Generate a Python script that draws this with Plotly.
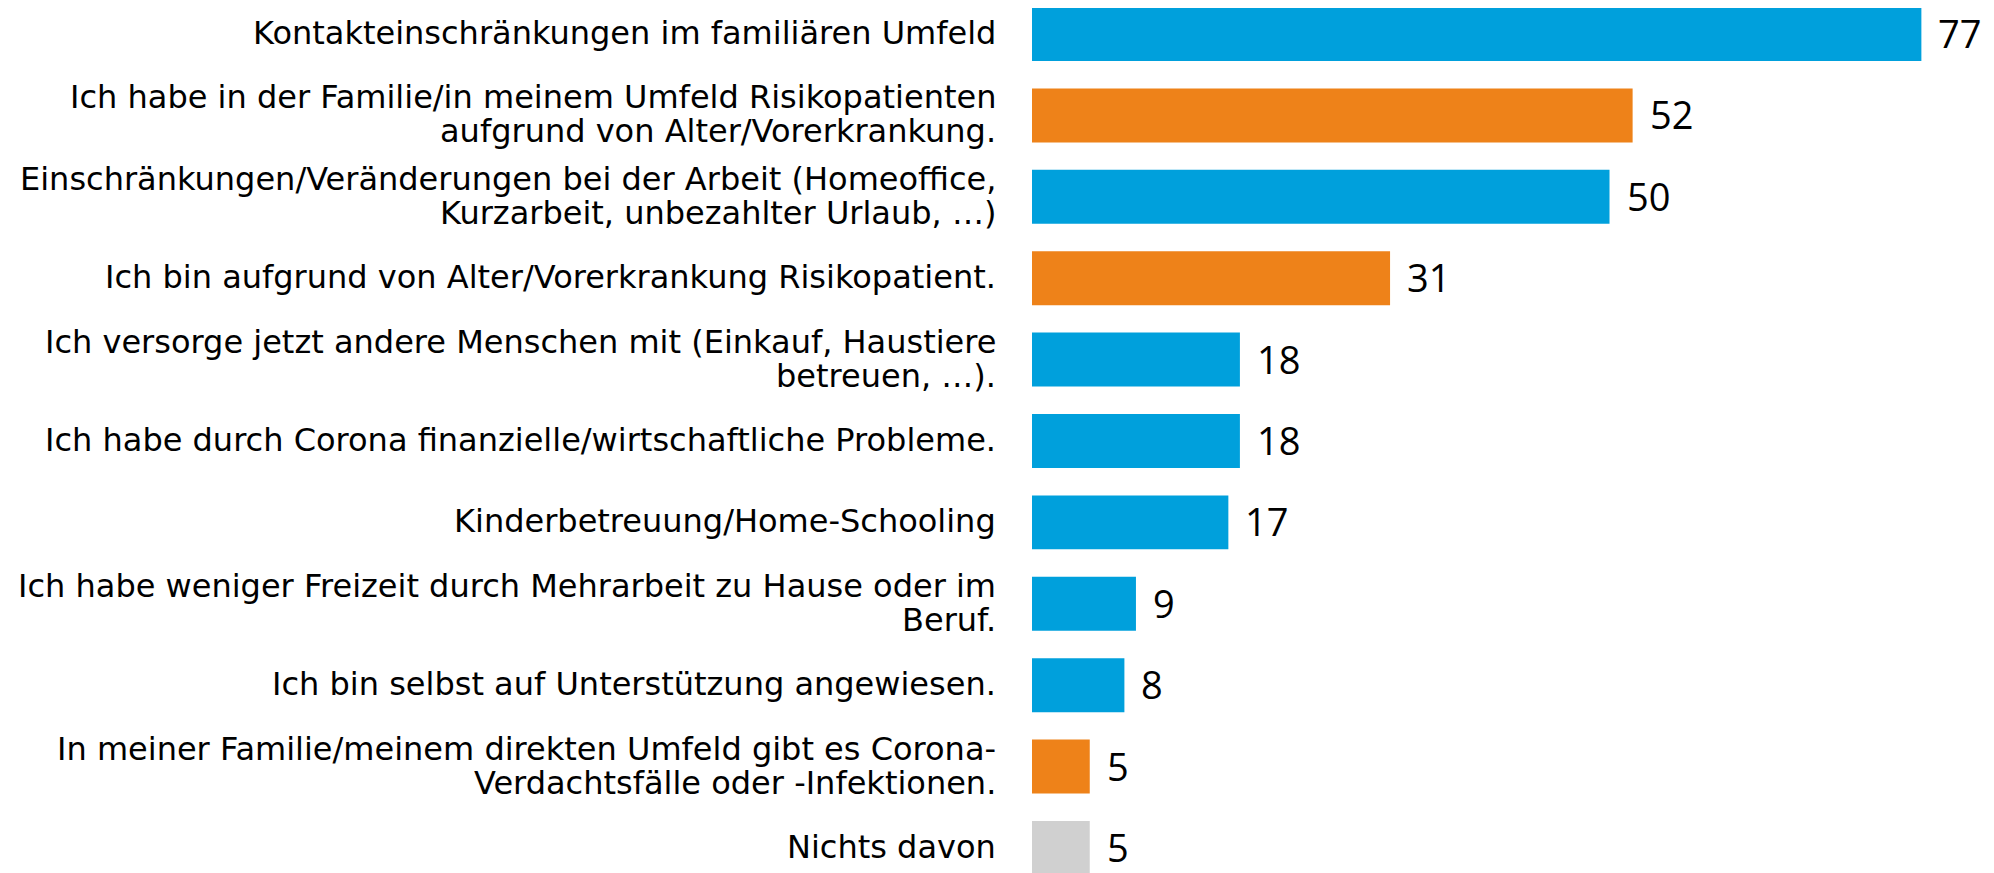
import plotly.graph_objects as go

categories = [
    "Kontakteinschränkungen im familiären Umfeld",
    "Ich habe in der Familie/in meinem Umfeld Risikopatienten<br>aufgrund von Alter/Vorerkrankung.",
    "Einschränkungen/Veränderungen bei der Arbeit (Homeoffice,<br>Kurzarbeit, unbezahlter Urlaub, …)",
    "Ich bin aufgrund von Alter/Vorerkrankung Risikopatient.",
    "Ich versorge jetzt andere Menschen mit (Einkauf, Haustiere<br>betreuen, …).",
    "Ich habe durch Corona finanzielle/wirtschaftliche Probleme.",
    "Kinderbetreuung/Home-Schooling",
    "Ich habe weniger Freizeit durch Mehrarbeit zu Hause oder im<br>Beruf.",
    "Ich bin selbst auf Unterstützung angewiesen.",
    "In meiner Familie/meinem direkten Umfeld gibt es Corona-<br>Verdachtsfälle oder -Infektionen.",
    "Nichts davon",
]
values = [77, 52, 50, 31, 18, 18, 17, 9, 8, 5, 5]
groups = ["b", "o", "b", "o", "b", "b", "b", "b", "b", "o", "g"]
palette = {"b": "#00A0DC", "o": "#EE8219", "g": "#D0D0D0"}
colors = [palette[g] for g in groups]

fig = go.Figure(go.Bar(
    x=values, y=categories, orientation="h",
    marker=dict(color=colors, line=dict(width=0)),
    hoverinfo="skip",
))

LINE_PITCH = 34
for c, v in zip(categories, values):
    fig.add_annotation(x=v, y=c, text=str(v), showarrow=False,
                       xanchor="left", yanchor="middle", xshift=15, yshift=1,
                       font=dict(family="Open Sans", size=38, color="#000000"))
    lines = c.split("<br>")
    n = len(lines)
    for i, ln in enumerate(lines):
        off = ((n - 1) / 2 - i) * LINE_PITCH
        fig.add_annotation(x=0, xref="paper", y=c, text=ln, showarrow=False,
                           xanchor="right", yanchor="middle", xshift=-34,
                           yshift=off + 1,
                           font=dict(family="DejaVu Sans", size=32, color="#000000"))

fig.update_layout(
    width=1994, height=873,
    margin=dict(l=1024, r=0, t=0, b=0),
    paper_bgcolor="white", plot_bgcolor="white",
    bargap=0.337,
    showlegend=False,
    font=dict(family="DejaVu Sans", size=32, color="#000000"),
)
fig.update_xaxes(range=[0, 83.98], visible=False, showgrid=False, zeroline=False)
fig.update_yaxes(range=[10.406, -0.3194], showgrid=False, zeroline=False,
                 showline=False, ticks="", showticklabels=False)

fig.write_html("out.html")
